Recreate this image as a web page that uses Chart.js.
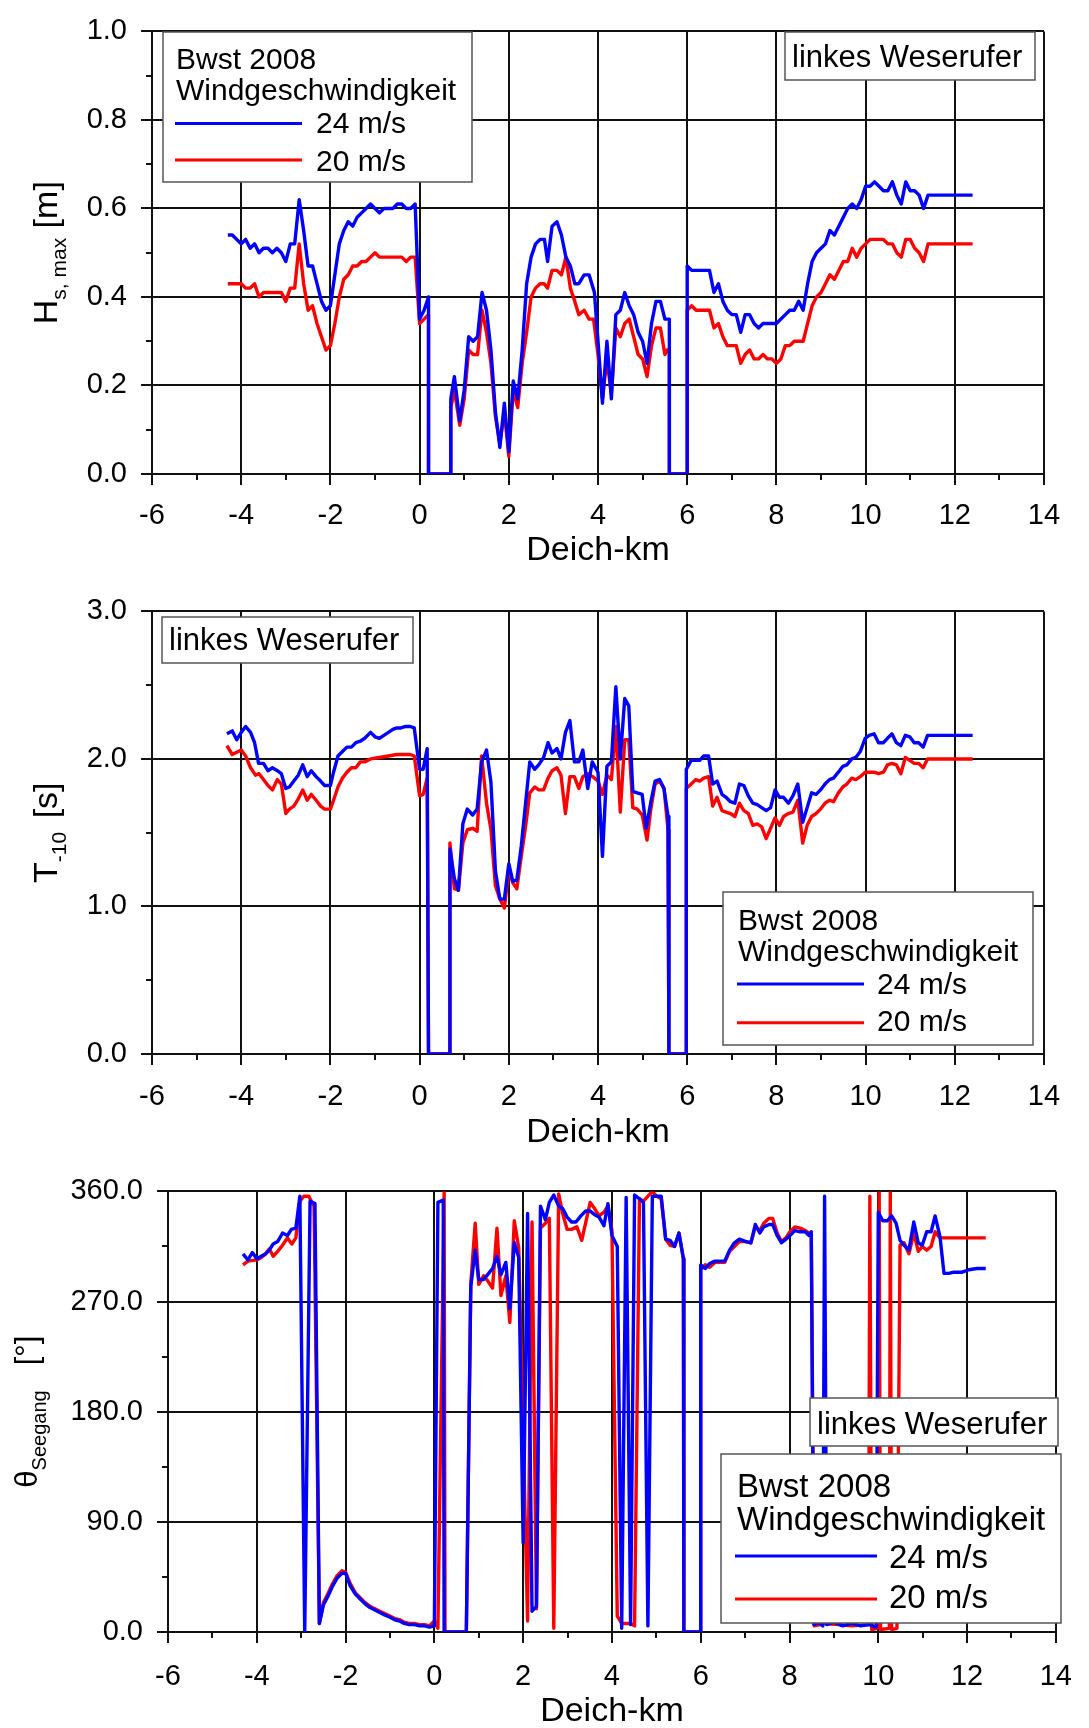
<!DOCTYPE html>
<html>
<head>
<meta charset="utf-8">
<script src="https://cdn.jsdelivr.net/npm/chart.js@4.4.0/dist/chart.umd.min.js"></script>
<style>
html, body { margin: 0; padding: 0; background: #fff; overflow: hidden; }
#wrap { position: relative; width: 1089px; height: 1728px; }
canvas { position: absolute; left: 0; }
</style>
</head>
<body>
<div id="wrap">
  <canvas id="hsChart" width="1089" height="580" style="top:0px"></canvas>
  <canvas id="tChart" width="1089" height="580" style="top:580px"></canvas>
  <canvas id="dirChart" width="1089" height="580" style="top:1160px"></canvas>
</div>
<script>
// ---- data ----
const seriesLabels = ['24 m/s', '20 m/s'];
const xTicksKm = [-6, -4, -2, 0, 2, 4, 6, 8, 10, 12, 14];
const hsTickLabels = ['0.0', '0.2', '0.4', '0.6', '0.8', '1.0'];
const tTickLabels = ['0.0', '1.0', '2.0', '3.0'];
const dirTickLabels = ['0.0', '90.0', '180.0', '270.0', '360.0'];

// Hs,max [m]
const hsKm24 = [
  -4.3,-4.2,-4.0,-3.9,-3.8,-3.7,-3.6,-3.5,-3.4,-3.3,
  -3.2,-3.1,-3.0,-2.9,-2.8,-2.7,-2.6,-2.5,-2.4,-2.3,
  -2.2,-2.1,-2.0,-1.9,-1.8,-1.7,-1.6,-1.5,-1.4,-1.3,
  -1.2,-1.1,-1.0,-0.9,-0.8,-0.7,-0.6,-0.5,-0.4,-0.3,
  -0.2,-0.1,0.0,0.1,0.2,0.2,0.7,0.7,0.78,0.9,
  1.0,1.1,1.2,1.3,1.4,1.5,1.6,1.7,1.8,1.9,
  2.0,2.1,2.2,2.3,2.4,2.5,2.6,2.7,2.8,2.87,
  2.97,3.08,3.18,3.28,3.38,3.48,3.57,3.69,3.8,3.92,
  4.0,4.1,4.2,4.3,4.4,4.5,4.6,4.7,4.8,4.9,
  5.0,5.1,5.2,5.3,5.4,5.5,5.6,5.6,6.0,6.0,
  6.1,6.5,6.6,6.7,6.8,6.9,7.0,7.1,7.2,7.3,
  7.4,7.5,7.6,7.7,8.0,8.2,8.3,8.4,8.5,8.6,
  8.7,8.8,8.9,9.0,9.1,9.2,9.3,9.4,9.5,9.6,
  9.7,9.8,9.9,10.0,10.1,10.2,10.3,10.4,10.5,10.6,
  10.7,10.8,10.9,11.0,11.1,11.2,11.3,11.4,12.4
];
const hs24 = [
  0.54,0.54,0.52,0.53,0.51,0.52,0.50,0.51,0.51,0.50,
  0.51,0.50,0.48,0.52,0.52,0.62,0.55,0.47,0.47,0.43,
  0.39,0.37,0.38,0.45,0.52,0.55,0.57,0.56,0.58,0.59,
  0.60,0.61,0.60,0.59,0.60,0.60,0.60,0.61,0.61,0.60,
  0.60,0.61,0.35,0.37,0.40,0,0,0.17,0.22,0.12,
  0.19,0.31,0.30,0.31,0.41,0.37,0.28,0.14,0.06,0.16,
  0.05,0.21,0.17,0.28,0.43,0.49,0.52,0.53,0.53,0.48,
  0.56,0.57,0.54,0.49,0.47,0.43,0.43,0.45,0.45,0.41,
  0.30,0.16,0.30,0.17,0.36,0.37,0.41,0.38,0.36,0.32,
  0.30,0.25,0.34,0.39,0.39,0.35,0.35,0,0,0.47,
  0.46,0.46,0.41,0.43,0.39,0.37,0.36,0.36,0.32,0.36,
  0.36,0.34,0.33,0.34,0.34,0.36,0.37,0.37,0.39,0.37,
  0.43,0.48,0.50,0.51,0.52,0.55,0.54,0.56,0.58,0.60,
  0.61,0.60,0.62,0.65,0.65,0.66,0.65,0.64,0.64,0.66,
  0.63,0.61,0.66,0.64,0.64,0.63,0.60,0.63,0.63
];
const hsKm20 = [
  -4.3,-4.0,-3.9,-3.8,-3.7,-3.6,-3.5,-3.1,-3.0,-2.9,
  -2.8,-2.7,-2.6,-2.5,-2.4,-2.3,-2.2,-2.1,-2.0,-1.9,
  -1.8,-1.7,-1.6,-1.5,-1.4,-1.3,-1.2,-1.1,-1.0,-0.9,
  -0.4,-0.3,-0.2,-0.1,0.0,0.1,0.2,0.2,0.7,0.7,
  0.78,0.9,1.0,1.1,1.2,1.3,1.4,1.5,1.6,1.7,
  1.8,1.9,2.0,2.1,2.2,2.3,2.4,2.5,2.6,2.7,
  2.79,2.87,2.97,3.08,3.18,3.28,3.38,3.48,3.57,3.69,
  3.8,3.9,4.0,4.1,4.2,4.3,4.4,4.5,4.6,4.7,
  4.8,4.9,5.0,5.1,5.2,5.3,5.4,5.5,5.55,5.6,
  5.6,6.0,6.0,6.1,6.2,6.5,6.6,6.7,6.8,6.9,
  7.0,7.1,7.2,7.3,7.4,7.5,7.6,7.7,7.8,7.9,
  8.0,8.1,8.2,8.3,8.4,8.6,8.7,8.8,8.9,9.0,
  9.1,9.2,9.3,9.4,9.5,9.6,9.7,9.8,9.9,10.0,
  10.1,10.4,10.5,10.6,10.7,10.8,10.9,11.0,11.1,11.2,
  11.3,11.4,12.4
];
const hs20 = [
  0.43,0.43,0.42,0.42,0.43,0.40,0.41,0.41,0.39,0.42,
  0.42,0.52,0.43,0.37,0.38,0.34,0.31,0.28,0.29,0.34,
  0.40,0.44,0.45,0.47,0.47,0.48,0.48,0.49,0.50,0.49,
  0.49,0.48,0.49,0.49,0.34,0.35,0.36,0,0,0.15,
  0.19,0.11,0.17,0.28,0.27,0.27,0.37,0.32,0.25,0.13,
  0.07,0.14,0.04,0.19,0.15,0.25,0.32,0.40,0.42,0.43,
  0.43,0.42,0.46,0.46,0.45,0.49,0.42,0.39,0.36,0.37,
  0.35,0.35,0.27,0.17,0.26,0.18,0.33,0.31,0.34,0.35,
  0.31,0.27,0.26,0.22,0.29,0.33,0.33,0.27,0.28,0.28,
  0,0,0.37,0.38,0.37,0.37,0.33,0.34,0.31,0.29,
  0.29,0.29,0.25,0.27,0.28,0.26,0.26,0.27,0.26,0.26,
  0.25,0.26,0.29,0.29,0.30,0.30,0.34,0.38,0.40,0.41,
  0.43,0.45,0.44,0.46,0.48,0.48,0.51,0.49,0.51,0.52,
  0.53,0.53,0.52,0.52,0.50,0.49,0.53,0.53,0.51,0.50,
  0.48,0.52,0.52
];

// T-10 [s]
const tKm24 = [
  -4.32,-4.2,-4.1,-4.0,-3.9,-3.79,-3.7,-3.61,-3.5,-3.4,
  -3.3,-3.19,-3.1,-3.0,-2.92,-2.82,-2.72,-2.62,-2.52,-2.43,
  -2.32,-2.22,-2.13,-2.0,-1.93,-1.83,-1.73,-1.63,-1.53,-1.43,
  -1.33,-1.23,-1.1,-1.0,-0.9,-0.8,-0.7,-0.6,-0.51,-0.42,
  -0.31,-0.21,-0.12,0.0,0.08,0.17,0.2,0.68,0.68,0.78,
  0.87,0.97,1.07,1.19,1.29,1.39,1.5,1.6,1.7,1.8,
  1.9,2.0,2.09,2.18,2.28,2.38,2.47,2.58,2.67,2.78,
  2.88,2.97,3.08,3.17,3.27,3.37,3.47,3.57,3.66,3.77,
  3.87,4.0,4.1,4.2,4.3,4.4,4.5,4.6,4.69,4.78,
  4.88,4.99,5.08,5.18,5.28,5.38,5.48,5.57,5.59,5.98,
  5.98,6.09,6.28,6.37,6.48,6.57,6.67,6.78,6.87,6.97,
  7.07,7.17,7.27,7.37,7.47,7.57,7.67,7.77,7.87,7.97,
  8.07,8.16,8.27,8.37,8.48,8.59,8.69,8.79,8.89,8.99,
  9.09,9.19,9.28,9.39,9.49,9.58,9.69,9.78,9.88,9.99,
  10.08,10.19,10.29,10.4,10.49,10.59,10.69,10.79,10.89,10.99,
  11.09,11.19,11.29,11.39,12.4
];
const t24 = [
  2.17,2.19,2.13,2.18,2.22,2.18,2.11,1.97,1.97,1.92,
  1.94,1.92,1.90,1.80,1.81,1.85,1.89,1.96,1.88,1.92,
  1.88,1.85,1.82,1.82,1.91,2.02,2.05,2.08,2.08,2.11,
  2.12,2.14,2.18,2.15,2.14,2.16,2.18,2.20,2.21,2.21,
  2.22,2.22,2.21,1.93,1.93,2.07,0,0,1.39,1.19,
  1.11,1.56,1.66,1.62,1.66,1.98,2.06,1.84,1.24,1.05,
  1.05,1.29,1.17,1.18,1.41,1.71,1.98,1.93,1.96,2.01,
  2.11,2.04,2.07,2.00,2.18,2.26,1.98,1.98,2.06,1.80,
  1.98,1.91,1.34,1.95,1.98,2.49,2.00,2.41,2.36,1.78,
  1.77,1.76,1.53,1.70,1.85,1.86,1.80,1.61,0,0,
  1.93,1.99,1.99,2.02,2.02,1.83,1.85,1.76,1.74,1.71,
  1.70,1.83,1.82,1.75,1.70,1.69,1.67,1.65,1.67,1.79,
  1.74,1.74,1.70,1.75,1.83,1.57,1.67,1.77,1.76,1.79,
  1.83,1.86,1.87,1.91,1.95,1.96,2.00,2.01,2.05,2.14,
  2.16,2.17,2.11,2.11,2.14,2.17,2.11,2.09,2.16,2.15,
  2.11,2.11,2.08,2.16,2.16
];
const tKm20 = [
  -4.32,-4.2,-4.0,-3.9,-3.79,-3.68,-3.6,-3.5,-3.4,-3.3,
  -3.19,-3.1,-3.0,-2.92,-2.82,-2.72,-2.62,-2.52,-2.43,-2.32,
  -2.22,-2.13,-2.0,-1.93,-1.83,-1.73,-1.63,-1.53,-1.43,-1.33,
  -1.23,-1.1,-0.9,-0.7,-0.51,-0.42,-0.21,-0.12,0.0,0.08,
  0.17,0.2,0.68,0.68,0.78,0.87,0.97,1.07,1.19,1.29,
  1.39,1.5,1.6,1.7,1.8,1.9,2.0,2.09,2.18,2.28,
  2.38,2.47,2.58,2.67,2.78,2.88,2.97,3.08,3.17,3.27,
  3.37,3.47,3.57,3.66,3.77,3.88,4.0,4.1,4.2,4.3,
  4.4,4.5,4.6,4.69,4.78,4.88,4.99,5.1,5.18,5.28,
  5.38,5.48,5.57,5.59,5.98,5.98,6.09,6.19,6.28,6.37,
  6.48,6.57,6.67,6.78,6.87,6.97,7.07,7.17,7.27,7.37,
  7.47,7.57,7.67,7.77,7.87,7.97,8.07,8.16,8.27,8.37,
  8.48,8.59,8.69,8.79,8.89,8.99,9.09,9.19,9.28,9.39,
  9.49,9.58,9.69,9.78,9.88,9.99,10.19,10.29,10.4,10.49,
  10.59,10.69,10.79,10.89,10.99,11.09,11.19,11.29,11.39,12.4
];
const t20 = [
  2.09,2.03,2.06,2.02,1.94,1.89,1.90,1.86,1.82,1.79,
  1.86,1.83,1.63,1.66,1.68,1.73,1.79,1.72,1.76,1.72,
  1.68,1.66,1.66,1.72,1.81,1.87,1.91,1.94,1.94,1.98,
  1.98,2.00,2.01,2.02,2.03,2.03,2.03,2.02,1.75,1.76,
  1.87,0,0,1.43,1.12,1.11,1.43,1.52,1.53,1.51,
  2.02,1.70,1.52,1.14,1.05,0.99,1.25,1.16,1.12,1.34,
  1.55,1.77,1.81,1.79,1.79,1.87,1.92,1.94,1.89,1.63,
  1.88,1.88,1.80,1.88,1.90,1.88,1.85,1.76,1.89,1.86,
  2.22,1.64,2.13,2.13,1.67,1.66,1.62,1.45,1.65,1.83,
  1.85,1.80,1.52,0,0,1.80,1.83,1.86,1.85,1.87,
  1.88,1.68,1.74,1.65,1.64,1.63,1.61,1.70,1.65,1.63,
  1.55,1.56,1.54,1.46,1.53,1.60,1.55,1.61,1.63,1.64,
  1.72,1.43,1.55,1.61,1.63,1.66,1.70,1.72,1.71,1.77,
  1.81,1.83,1.87,1.86,1.88,1.91,1.91,1.90,1.91,1.96,
  1.97,1.96,1.90,2.01,1.99,1.97,1.97,1.94,2.00,2.00
];

// theta Seegang [deg]
const dirKm24 = [
  -4.31,-4.2,-4.1,-4.0,-3.9,-3.8,-3.72,-3.63,-3.53,-3.42,
  -3.31,-3.22,-3.12,-3.03,-2.92,-2.8,-2.69,-2.59,-2.5,-2.4,
  -2.3,-2.19,-2.08,-2.0,-1.9,-1.78,-1.67,-1.56,-1.45,-1.34,
  -1.23,-1.12,-1.0,-0.89,-0.78,-0.68,-0.57,-0.45,-0.33,-0.22,
  -0.11,0.0,0.08,0.2,0.22,0.72,0.82,0.92,1.0,1.11,
  1.2,1.31,1.41,1.5,1.61,1.7,1.8,1.9,2.0,2.1,
  2.2,2.3,2.39,2.5,2.59,2.69,2.8,2.89,2.99,3.09,
  3.19,3.3,3.41,3.51,3.61,3.71,3.82,3.91,4.0,4.12,
  4.22,4.32,4.42,4.51,4.62,4.71,4.81,4.91,5.01,5.11,
  5.21,5.31,5.41,5.51,5.61,5.62,6.0,6.0,6.1,6.2,
  6.32,6.54,6.65,6.76,6.87,7.02,7.13,7.23,7.33,7.42,
  7.54,7.62,7.72,7.82,7.92,8.01,8.12,8.24,8.35,8.44,
  8.49,8.55,8.65,8.75,8.79,8.84,9.0,9.2,9.4,9.6,
  9.8,9.95,10.0,10.1,10.2,10.3,10.4,10.49,10.58,10.69,
  10.8,10.9,10.99,11.09,11.19,11.28,11.39,11.48,11.59,11.7,
  11.89,12.04,12.22,12.42
];
const dir24 = [
  309,304,310,305,307,309,312,317,319,326,
  324,329,330,356,0,352,350,7,22,29,
  37,44,48,48,38,31,27,23,20,18,
  16,14,12,10,9,7,6,6,5,5,
  4,5,351,353,0,0,282,312,288,288,
  292,297,307,292,302,264,318,306,73,342,
  17,21,348,337,351,357,348,346,339,335,
  335,340,344,344,341,339,332,350,324,315,
  3,355,6,357,354,351,5,356,356,356,
  321,320,315,326,305,0,0,300,297,301,
  303,303,312,318,321,319,318,333,326,331,
  333,333,324,318,321,324,328,327,327,324,
  327,6,8,5,356,6,8,5,7,5,
  6,4,343,336,336,340,334,320,316,312,
  335,318,316,327,327,340,323,293,293,294,
  294,296,297,297
];
const dirKm20 = [
  -4.31,-4.2,-4.0,-3.9,-3.8,-3.72,-3.63,-3.53,-3.42,-3.31,
  -3.21,-3.12,-3.03,-2.94,-2.83,-2.71,-2.59,-2.5,-2.4,-2.3,
  -2.19,-2.08,-2.0,-1.9,-1.78,-1.67,-1.56,-1.45,-1.34,-1.23,
  -1.12,-1.0,-0.89,-0.78,-0.68,-0.57,-0.45,-0.33,-0.22,-0.11,
  0.0,0.08,0.22,0.24,0.72,0.82,0.92,1.0,1.11,1.2,
  1.31,1.41,1.5,1.61,1.7,1.8,1.9,2.1,2.2,2.3,
  2.39,2.5,2.59,2.69,2.8,2.89,2.99,3.09,3.21,3.32,
  3.51,3.61,3.71,3.82,3.91,4.0,4.12,4.22,4.42,4.51,
  4.62,4.71,4.91,5.01,5.11,5.21,5.31,5.41,5.51,5.61,
  5.62,6.0,6.0,6.1,6.2,6.32,6.54,6.65,6.76,6.87,
  7.02,7.13,7.23,7.33,7.42,7.54,7.62,7.72,7.82,7.92,
  8.01,8.12,8.24,8.35,8.44,8.49,8.56,8.8,9.1,9.4,
  9.78,9.81,9.85,9.98,10.02,10.05,10.25,10.27,10.3,10.42,
  10.49,10.58,10.69,10.8,10.9,10.99,11.09,11.19,11.28,11.39,
  11.48,12.42
];
const dir20 = [
  300,303,304,306,309,313,307,311,316,322,
  317,322,352,356,356,348,7,24,31,39,
  46,50,49,40,32,28,24,21,19,17,
  15,13,11,10,8,7,7,6,6,5,
  9,3,360,0,0,284,334,284,291,287,
  281,330,275,291,253,336,314,9,335,19,
  330,334,338,3,358,342,329,329,331,320,
  351,346,340,343,348,328,13,7,7,5,
  354,352,360,356,354,321,316,315,326,305,
  0,0,296,300,298,302,302,311,315,319,
  319,318,331,328,334,338,338,326,319,322,
  327,331,330,328,326,326,5,7,6,5,
  6,356,2,3,360,2,3,360,2,3,
  316,318,309,326,311,315,312,315,327,322,
  322,322
];

// ---- drawing ----
const FONT = '"Liberation Sans", Arial, Helvetica, sans-serif';
const AXIS_COLOR = '#111';
Chart.defaults.font.family = FONT;
Chart.defaults.color = '#000';

function pts(km, vals) {
  return km.map((x, i) => ({ x: x, y: vals[i] }));
}

// boxes, minor ticks and rotated axis titles with subscripts
const decorPlugin = {
  id: 'decor',
  afterDatasetsDraw(chart, args, o) {
    const ctx = chart.ctx;
    ctx.save();
    ctx.textAlign = 'left';
    ctx.textBaseline = 'alphabetic';
    o.boxes.forEach(b => {
      ctx.fillStyle = '#fff';
      ctx.fillRect(b.x, b.y, b.w, b.h);
      ctx.strokeStyle = '#555';
      ctx.lineWidth = 1.5;
      ctx.strokeRect(b.x, b.y, b.w, b.h);
      ctx.fillStyle = '#000';
      ctx.font = b.size + 'px ' + FONT;
      b.lines.forEach(t => ctx.fillText(t.text, t.x, t.y));
      (b.swatches || []).forEach(s => {
        const ds = chart.data.datasets[s.ds];
        ctx.strokeStyle = ds.borderColor;
        ctx.lineWidth = 3;
        ctx.beginPath();
        ctx.moveTo(s.x1, s.y);
        ctx.lineTo(s.x2, s.y);
        ctx.stroke();
        ctx.fillText(ds.label, s.tx, s.ty);
      });
    });
    ctx.restore();
  },
  afterDraw(chart, args, o) {
    const ctx = chart.ctx;
    const xs = chart.scales.x, ys = chart.scales.y;
    ctx.save();
    ctx.strokeStyle = AXIS_COLOR;
    ctx.lineWidth = 2;
    ctx.beginPath();
    for (let v = xs.min + o.xMinor; v < xs.max; v += 2 * o.xMinor) {
      const px = Math.round(xs.getPixelForValue(v));
      ctx.moveTo(px, xs.top);
      ctx.lineTo(px, xs.top + 6);
    }
    for (let v = ys.min + o.yMinor; v < ys.max; v += 2 * o.yMinor) {
      const py = Math.round(ys.getPixelForValue(v));
      ctx.moveTo(ys.right, py);
      ctx.lineTo(ys.right - 6, py);
    }
    ctx.stroke();

    // y axis title, rotated
    const t = o.yTitle;
    const ca = chart.chartArea;
    ctx.translate(t.x, (ca.top + ca.bottom) / 2);
    ctx.rotate(-Math.PI / 2);
    ctx.fillStyle = '#000';
    ctx.textBaseline = 'alphabetic';
    ctx.textAlign = 'left';
    let total = 0;
    t.parts.forEach(p => {
      ctx.font = p.size + 'px ' + FONT;
      p.w = ctx.measureText(p.text).width + (p.gap || 0);
      total += p.w;
    });
    let cx = -total / 2;
    t.parts.forEach(p => {
      ctx.font = p.size + 'px ' + FONT;
      ctx.fillText(p.text, cx + (p.gap || 0), p.sub ? t.subShift : 0);
      cx += p.w;
    });
    ctx.restore();
  }
};

function makeChart(id, cfg) {
  const tickFont = { size: 29 };
  return new Chart(document.getElementById(id), {
    type: 'line',
    data: {
      datasets: [
        { label: seriesLabels[0], data: cfg.blue, borderColor: '#0000ff', borderWidth: 3.4,
          pointRadius: 0, tension: 0, borderJoinStyle: 'round', fill: false },
        { label: seriesLabels[1], data: cfg.red, borderColor: '#ff0000', borderWidth: 3.4,
          pointRadius: 0, tension: 0, borderJoinStyle: 'round', fill: false }
      ]
    },
    options: {
      responsive: false,
      animation: false,
      devicePixelRatio: 1,
      layout: { padding: { left: 0, right: cfg.padRight, top: cfg.padTop, bottom: 0 } },
      scales: {
        x: {
          type: 'linear',
          min: xTicksKm[0],
          max: xTicksKm[xTicksKm.length - 1],
          afterBuildTicks: s => { s.ticks = xTicksKm.map(v => ({ value: v })); },
          ticks: { font: tickFont, color: '#000', padding: cfg.xTickPad, maxRotation: 0,
                   autoSkip: false, callback: v => String(v) },
          grid: { color: AXIS_COLOR, lineWidth: 2, tickLength: 11, tickColor: AXIS_COLOR },
          border: { color: AXIS_COLOR, width: 2 },
          title: { display: true, text: 'Deich-km', color: '#000',
                   font: { size: 34 }, padding: { top: 0, bottom: cfg.titlePad } },
          afterFit: s => { s.height = cfg.xHeight; }
        },
        y: {
          type: 'linear',
          min: 0,
          max: cfg.yMax,
          afterBuildTicks: s => { s.ticks = cfg.yLabels.map((l, i) => ({ value: i * cfg.yStep })); },
          ticks: { font: tickFont, color: '#000', padding: 14, autoSkip: false,
                   callback: (v, i) => cfg.yLabels[i] },
          grid: { color: AXIS_COLOR, lineWidth: 2, tickLength: 11, tickColor: AXIS_COLOR },
          border: { color: AXIS_COLOR, width: 2 },
          afterFit: s => { s.width = cfg.yWidth; }
        }
      },
      plugins: {
        legend: { display: false },
        tooltip: { enabled: false },
        decor: { xMinor: 1, yMinor: cfg.yStep / 2, yTitle: cfg.yTitle, boxes: cfg.boxes }
      }
    },
    plugins: [decorPlugin]
  });
}

// top panel: Hs,max
makeChart('hsChart', {
  blue: pts(hsKm24, hs24), red: pts(hsKm20, hs20),
  yMax: 1.0, yStep: 0.2, yLabels: hsTickLabels,
  padTop: 24, padRight: 45, yWidth: 152, xHeight: 106, xTickPad: 14, titlePad: 9,
  yTitle: { x: 57, subShift: 9, parts: [
    { text: 'H', size: 34 }, { text: 's, max', size: 21, sub: true }, { text: ' [m]', size: 34 } ] },
  boxes: [
    { x: 163, y: 32, w: 309, h: 150, size: 30,
      lines: [ { text: 'Bwst 2008', x: 176, y: 69 }, { text: 'Windgeschwindigkeit', x: 176, y: 100 } ],
      swatches: [ { ds: 0, x1: 175, x2: 302, y: 123.5, tx: 316, ty: 133 },
                  { ds: 1, x1: 175, x2: 302, y: 160, tx: 316, ty: 171 } ] },
    { x: 785, y: 32, w: 250, h: 48, size: 31,
      lines: [ { text: 'linkes Weserufer', x: 792, y: 67 } ] }
  ]
});

// middle panel: T-10
makeChart('tChart', {
  blue: pts(tKm24, t24), red: pts(tKm20, t20),
  yMax: 3.0, yStep: 1.0, yLabels: tTickLabels,
  padTop: 25, padRight: 45, yWidth: 152, xHeight: 106, xTickPad: 15, titlePad: 7,
  yTitle: { x: 57, subShift: 9, parts: [
    { text: 'T', size: 34 }, { text: '-10', size: 21, sub: true }, { text: ' [s]', size: 34, gap: 4 } ] },
  boxes: [
    { x: 162, y: 37, w: 251, h: 46, size: 31,
      lines: [ { text: 'linkes Weserufer', x: 169, y: 70 } ] },
    { x: 723, y: 312, w: 310, h: 153, size: 30,
      lines: [ { text: 'Bwst 2008', x: 738, y: 350 }, { text: 'Windgeschwindigkeit', x: 738, y: 380.7 } ],
      swatches: [ { ds: 0, x1: 737, x2: 864, y: 404, tx: 877, ty: 414 },
                  { ds: 1, x1: 737, x2: 864, y: 442.7, tx: 877, ty: 451 } ] }
  ]
});

// bottom panel: wave direction
makeChart('dirChart', {
  blue: pts(dirKm24, dir24), red: pts(dirKm20, dir20),
  yMax: 360, yStep: 90, yLabels: dirTickLabels,
  padTop: 26, padRight: 22, yWidth: 168, xHeight: 108, xTickPad: 17, titlePad: 8,
  yTitle: { x: 37, subShift: 9, parts: [
    { text: 'θ', size: 31 }, { text: 'Seegang', size: 20, sub: true }, { text: '[°]', size: 31, gap: 25 } ] },
  boxes: [
    { x: 810, y: 238, w: 248, h: 48, size: 31,
      lines: [ { text: 'linkes Weserufer', x: 817, y: 274 } ] },
    { x: 721, y: 294, w: 340, h: 169, size: 33,
      lines: [ { text: 'Bwst 2008', x: 737, y: 336.7 }, { text: 'Windgeschwindigkeit', x: 737, y: 370 } ],
      swatches: [ { ds: 0, x1: 735, x2: 877, y: 396, tx: 889, ty: 407.7 },
                  { ds: 1, x1: 735, x2: 877, y: 439, tx: 889, ty: 448.3 } ] }
  ]
});
</script>
</body>
</html>
